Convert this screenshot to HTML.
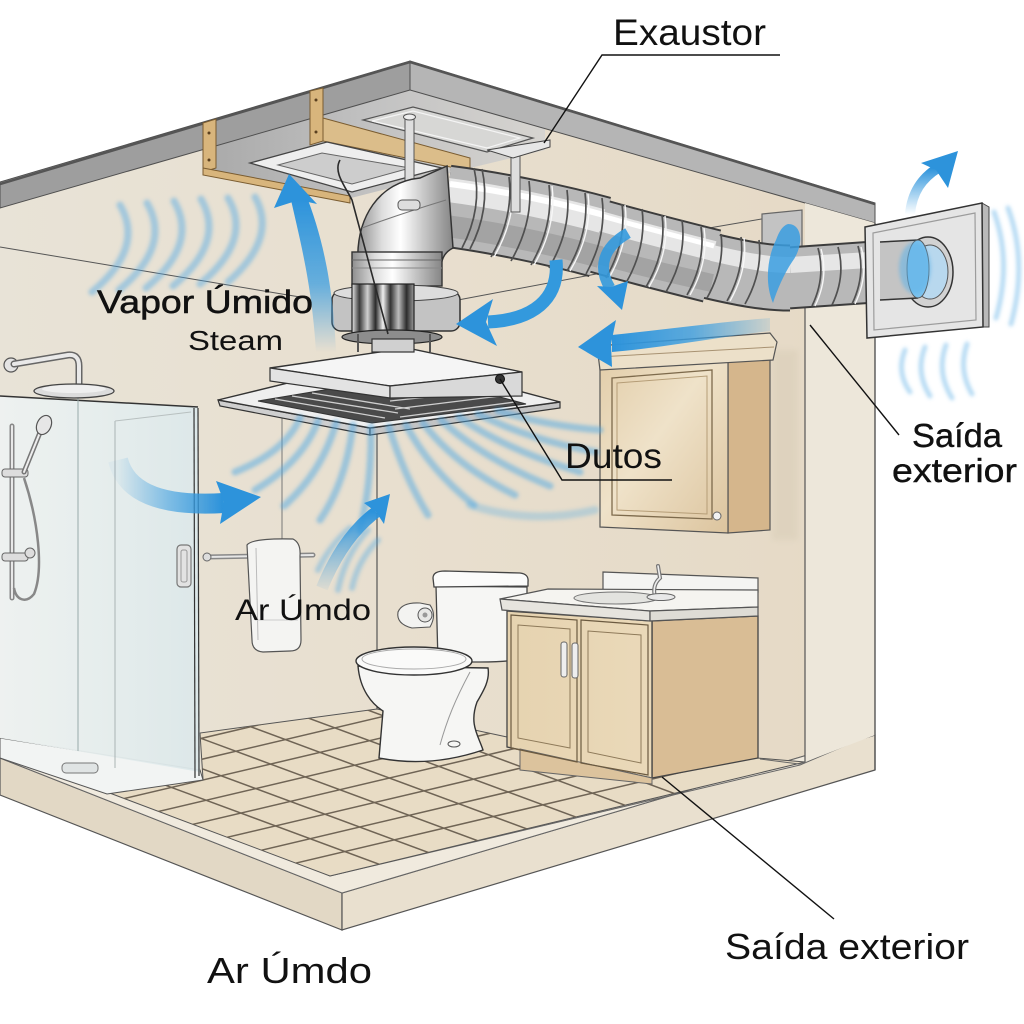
<!DOCTYPE html>
<html>
<head>
<meta charset="utf-8">
<style>
html,body{margin:0;padding:0;background:#ffffff;}
svg{display:block;}
.lbl{font-family:"Liberation Sans", Arial, sans-serif; fill:#111;}
</style>
</head>
<body>
<svg width="1024" height="1024" viewBox="0 0 1024 1024" xmlns="http://www.w3.org/2000/svg">
<defs>
  <filter id="soft" x="-30%" y="-30%" width="160%" height="160%"><feGaussianBlur stdDeviation="1.8"/></filter>
  <filter id="soft3" x="-30%" y="-30%" width="160%" height="160%"><feGaussianBlur stdDeviation="3"/></filter>
  <linearGradient id="wallG" x1="0" y1="0" x2="1" y2="0">
    <stop offset="0" stop-color="#e8e3d7"/>
    <stop offset="0.45" stop-color="#e8dfcf"/>
    <stop offset="1" stop-color="#e5d9c5"/>
  </linearGradient>
  <linearGradient id="cavG" x1="0" y1="0" x2="1" y2="0">
    <stop offset="0" stop-color="#a9a9a9"/>
    <stop offset="0.5" stop-color="#c2c2c2"/>
    <stop offset="1" stop-color="#d6d4d0"/>
  </linearGradient>
  <linearGradient id="metalH" x1="0" y1="0" x2="1" y2="0">
    <stop offset="0" stop-color="#8e8e8e"/>
    <stop offset="0.25" stop-color="#dcdcdc"/>
    <stop offset="0.45" stop-color="#ffffff"/>
    <stop offset="0.7" stop-color="#c6c6c6"/>
    <stop offset="1" stop-color="#858585"/>
  </linearGradient>
  <linearGradient id="darkM" x1="0" y1="0" x2="1" y2="0">
    <stop offset="0" stop-color="#e8e8e8"/>
    <stop offset="0.12" stop-color="#3a3a3a"/>
    <stop offset="0.25" stop-color="#d0d0d0"/>
    <stop offset="0.38" stop-color="#2a2a2a"/>
    <stop offset="0.5" stop-color="#f0f0f0"/>
    <stop offset="0.62" stop-color="#333"/>
    <stop offset="0.75" stop-color="#bdbdbd"/>
    <stop offset="0.88" stop-color="#2c2c2c"/>
    <stop offset="1" stop-color="#9a9a9a"/>
  </linearGradient>
  <linearGradient id="glassG" x1="0" y1="0" x2="1" y2="0">
    <stop offset="0" stop-color="#eef2f1"/>
    <stop offset="0.5" stop-color="#e6eeee"/>
    <stop offset="1" stop-color="#dce8ea"/>
  </linearGradient>
  <linearGradient id="cabF" x1="0" y1="0" x2="1" y2="1">
    <stop offset="0" stop-color="#e2cda9"/>
    <stop offset="0.45" stop-color="#efe2c9"/>
    <stop offset="1" stop-color="#dcc49e"/>
  </linearGradient>
  <linearGradient id="vanF" x1="0" y1="0" x2="1" y2="0">
    <stop offset="0" stop-color="#e6d3b0"/>
    <stop offset="1" stop-color="#ead9b9"/>
  </linearGradient>
  <linearGradient id="a1" gradientUnits="userSpaceOnUse" x1="0" y1="352" x2="0" y2="200">
    <stop offset="0" stop-color="#3a9de0" stop-opacity="0"/>
    <stop offset="0.45" stop-color="#3a9de0" stop-opacity="0.75"/>
    <stop offset="1" stop-color="#2d93db" stop-opacity="1"/>
  </linearGradient>
  <linearGradient id="a4" gradientUnits="userSpaceOnUse" x1="775" y1="0" x2="612" y2="0">
    <stop offset="0" stop-color="#3a9de0" stop-opacity="0.1"/>
    <stop offset="0.5" stop-color="#3a9de0" stop-opacity="0.8"/>
    <stop offset="1" stop-color="#2d93db" stop-opacity="1"/>
  </linearGradient>
  <linearGradient id="a5" gradientUnits="userSpaceOnUse" x1="0" y1="215" x2="0" y2="168">
    <stop offset="0" stop-color="#3a9de0" stop-opacity="0"/>
    <stop offset="1" stop-color="#2d93db" stop-opacity="1"/>
  </linearGradient>
  <linearGradient id="a6" gradientUnits="userSpaceOnUse" x1="118" y1="0" x2="222" y2="0">
    <stop offset="0" stop-color="#3a9de0" stop-opacity="0.05"/>
    <stop offset="0.5" stop-color="#3a9de0" stop-opacity="0.6"/>
    <stop offset="1" stop-color="#2d93db" stop-opacity="1"/>
  </linearGradient>
  <linearGradient id="a7" gradientUnits="userSpaceOnUse" x1="0" y1="590" x2="0" y2="512">
    <stop offset="0" stop-color="#3a9de0" stop-opacity="0.05"/>
    <stop offset="1" stop-color="#2d93db" stop-opacity="1"/>
  </linearGradient>
  <clipPath id="floorClip">
    <polygon points="107,792 203,779 200,733 377,709 507,737 805,762 330,876"/>
  </clipPath>
</defs>

<!-- ===== ROOM SHELL ===== -->
<polygon points="0,182 410,61 875,203 875,770 342,930 0,795" fill="url(#wallG)"/>

<!-- ceiling cavity -->
<polygon points="203,123 323,89 410,90 545,128 545,150 470,168 347,199 203,170" fill="url(#cavG)"/>

<!-- ceiling band (cut slab) -->
<polygon points="0,182 410,61 410,90 0,208" fill="#9e9e9e" stroke="#4f4f4f" stroke-width="1"/>
<polygon points="410,61 875,203 875,223 410,90" fill="#b5b5b5" stroke="#4f4f4f" stroke-width="1"/>
<polyline points="0,184 410,62 875,204" fill="none" stroke="#555" stroke-width="2.5"/>

<!-- wood joists -->
<polygon points="203,123 216,119 216,168 203,172" fill="#d8b57c" stroke="#7a5c30" stroke-width="1"/>
<circle cx="209" cy="133" r="1.5" fill="#5a4020"/><circle cx="209" cy="160" r="1.5" fill="#5a4020"/>
<polygon points="310,91 323,88 323,141 310,145" fill="#d8b57c" stroke="#7a5c30" stroke-width="1"/>
<circle cx="316" cy="100" r="1.5" fill="#5a4020"/><circle cx="316" cy="132" r="1.5" fill="#5a4020"/>
<polygon points="323,118 470,158 470,171 323,141" fill="#dbbd8a" stroke="#7a5c30" stroke-width="1"/>
<polygon points="203,168 350,196 350,203 203,175" fill="#d8b57c" stroke="#7a5c30" stroke-width="1"/>

<!-- second ceiling plate -->
<polygon points="363,120 413,107 533,138 487,152" fill="#d7d7d5" stroke="#555" stroke-width="1.2"/>
<polygon points="372,121 413,111 520,138 487,148" fill="none" stroke="#f4f4f4" stroke-width="1.2"/>

<!-- ceiling intake vent -->
<polygon points="250,163 327,142 442,168 352,192" fill="#eeeeee" stroke="#444" stroke-width="1.3"/>
<polygon points="278,165 322,153 410,168 352,184" fill="#cdcdcd" stroke="#666" stroke-width="1"/>

<!-- ceiling / wall junction lines -->
<line x1="0" y1="247" x2="300" y2="297" stroke="#555" stroke-width="1"/>
<line x1="458" y1="300" x2="660" y2="262" stroke="#555" stroke-width="1"/>
<line x1="680" y1="233" x2="802" y2="212" stroke="#555" stroke-width="1"/>

<!-- room corner lines -->
<line x1="377" y1="420" x2="377" y2="709" stroke="#555" stroke-width="1.2"/>
<line x1="282" y1="415" x2="282" y2="545" stroke="#777" stroke-width="1"/>

<!-- wall shadow by cabinet -->
<rect x="772" y="350" width="26" height="190" fill="#d6cab4" opacity="0.45" filter="url(#soft3)"/>

<!-- ===== FLOOR & SLAB ===== -->
<polygon points="0,758 342,893 342,930 0,795" fill="#e2d8c5" stroke="#555" stroke-width="1.2"/>
<polygon points="342,893 875,735 875,770 342,930" fill="#e9e0cf" stroke="#555" stroke-width="1.2"/>
<polygon points="0,738 330,876 800,765 875,733 875,735 342,893 0,758" fill="#f0eade" stroke="#666" stroke-width="1"/>
<polygon points="107,792 203,779 200,733 377,709 507,737 805,762 330,876" fill="#e8dcc5" stroke="#555" stroke-width="1"/>
<g clip-path="url(#floorClip)" stroke="#6f6455" stroke-width="1.5" fill="none">
  <line x1="80" y1="753.6" x2="900" y2="1057"/>
  <line x1="80" y1="723.6" x2="900" y2="1027"/>
  <line x1="80" y1="693.6" x2="900" y2="997"/>
  <line x1="80" y1="663.6" x2="900" y2="967"/>
  <line x1="80" y1="633.6" x2="900" y2="937"/>
  <line x1="80" y1="603.6" x2="900" y2="907"/>
  <line x1="80" y1="573.6" x2="900" y2="877"/>
  <line x1="80" y1="914" x2="900" y2="720.6"/>
  <line x1="80" y1="893" x2="900" y2="699.6"/>
  <line x1="80" y1="872" x2="900" y2="678.6"/>
  <line x1="80" y1="851" x2="900" y2="657.6"/>
  <line x1="80" y1="830" x2="900" y2="636.6"/>
  <line x1="80" y1="809" x2="900" y2="615.6"/>
  <line x1="80" y1="788" x2="900" y2="594.6"/>
  <line x1="80" y1="767" x2="900" y2="573.6"/>
</g>

<!-- right wall cut strip -->
<polygon points="805,203 875,223 875,735 805,762" fill="#ede7da"/>
<line x1="805" y1="300" x2="805" y2="762" stroke="#555" stroke-width="1.2"/>
<line x1="875" y1="223" x2="875" y2="770" stroke="#555" stroke-width="1.4"/>
<polyline points="760,759 799,764 805,762" fill="none" stroke="#666" stroke-width="1"/>

<!-- ===== SHOWER ===== -->
<polygon points="0,738 200,770 203,780 107,794 0,758" fill="#f2f4f3" stroke="#555" stroke-width="1"/>
<rect x="62" y="763" width="36" height="10" rx="4" fill="#e0e4e4" stroke="#777" stroke-width="1"/>
<polygon points="0,396 198,407 200,772 0,738" fill="url(#glassG)" opacity="0.95"/>
<line x1="0" y1="396" x2="198" y2="407" stroke="#333" stroke-width="1.5"/>
<line x1="78" y1="398" x2="78" y2="751" stroke="#9aa" stroke-width="1"/>
<line x1="115" y1="421" x2="115" y2="768" stroke="#a9b3b3" stroke-width="1"/>
<line x1="115" y1="421" x2="191" y2="412" stroke="#b8c0c0" stroke-width="1"/>
<line x1="194" y1="408" x2="195" y2="778" stroke="#333" stroke-width="1.2"/>
<line x1="198" y1="408" x2="199" y2="776" stroke="#333" stroke-width="1.2"/>
<rect x="177" y="545" width="14" height="42" rx="4" fill="#e2e2e2" stroke="#777" stroke-width="1.2"/>
<rect x="181" y="550" width="6" height="32" rx="2" fill="none" stroke="#999" stroke-width="1"/>
<!-- shower head -->
<circle cx="11" cy="365" r="7" fill="#e4e4e4" stroke="#555" stroke-width="1.2"/>
<path d="M 14 364 L 68 355 Q 79 354 79 366 L 79 386" fill="none" stroke="#666" stroke-width="7" stroke-linecap="round"/>
<path d="M 14 364 L 68 355 Q 79 354 79 366 L 79 386" fill="none" stroke="#e9e9e9" stroke-width="4" stroke-linecap="round"/>
<ellipse cx="74" cy="391" rx="40" ry="7" fill="#dcdcdc" stroke="#444" stroke-width="1.3"/>
<ellipse cx="74" cy="389" rx="32" ry="4" fill="#efefef"/>
<!-- hand shower -->
<line x1="12" y1="426" x2="12" y2="598" stroke="#888" stroke-width="5" stroke-linecap="round"/>
<line x1="12" y1="426" x2="12" y2="598" stroke="#e8e8e8" stroke-width="2" stroke-linecap="round"/>
<rect x="2" y="469" width="26" height="8" rx="3" fill="#ddd" stroke="#666" stroke-width="1"/>
<rect x="2" y="553" width="26" height="8" rx="3" fill="#ddd" stroke="#666" stroke-width="1"/>
<path d="M 24 472 L 41 430" stroke="#777" stroke-width="5" stroke-linecap="round"/>
<path d="M 24 472 L 41 430" stroke="#eee" stroke-width="2" stroke-linecap="round"/>
<ellipse cx="44" cy="425" rx="7" ry="10" transform="rotate(25 44 425)" fill="#e6e6e6" stroke="#555" stroke-width="1.2"/>
<path d="M 24 478 C 38 520, 44 570, 34 594 C 26 604, 16 600, 14 588" fill="none" stroke="#888" stroke-width="2.5"/>
<circle cx="30" cy="553" r="5" fill="#ddd" stroke="#666" stroke-width="1"/>

<!-- ===== MEDICINE CABINET ===== -->
<polygon points="728,357 770,352 770,530 728,533" fill="#d5b68c" stroke="#555" stroke-width="1.2"/>
<polygon points="600,362 728,357 728,533 600,527" fill="url(#cabF)" stroke="#555" stroke-width="1.2"/>
<polygon points="612,378 712,370 712,519 612,515" fill="none" stroke="#7d6a4c" stroke-width="1.3"/>
<polygon points="617,383 707,376 707,514 617,510" fill="none" stroke="#b59d77" stroke-width="1"/>
<circle cx="717" cy="516" r="4" fill="#f2f2f2" stroke="#666" stroke-width="1"/>
<polygon points="597,346 770,333 777,342 773,360 600,370" fill="#ece0c9" stroke="#555" stroke-width="1.2"/>
<line x1="598" y1="357" x2="774" y2="347" stroke="#a89272" stroke-width="1"/>

<!-- ===== TOWEL & PAPER ===== -->
<line x1="207" y1="557" x2="313" y2="555" stroke="#888" stroke-width="5" stroke-linecap="round"/>
<line x1="207" y1="557" x2="313" y2="555" stroke="#e6e6e6" stroke-width="2" stroke-linecap="round"/>
<circle cx="207" cy="557" r="4" fill="#ddd" stroke="#666" stroke-width="1"/>
<path d="M 247 545 Q 252 538 293 539 Q 301 543 300 556 L 301 640 Q 301 651 290 651 L 263 652 Q 252 651 252 640 Z" fill="#f4f4f2" stroke="#555" stroke-width="1.2"/>
<path d="M 256 548 L 258 640" stroke="#bbb" stroke-width="1" fill="none"/>
<path d="M 255 620 L 298 620" stroke="#ccc" stroke-width="1" fill="none"/>
<path d="M 398 612 Q 402 602 420 603 L 430 605 Q 437 615 430 627 L 412 628 Q 396 624 398 612 Z" fill="#f3f3f1" stroke="#555" stroke-width="1.1"/>
<circle cx="425" cy="615" r="7" fill="#e8e8e6" stroke="#555" stroke-width="1"/>
<circle cx="425" cy="615" r="2.5" fill="#999"/>

<!-- ===== TOILET TANK ===== -->
<path d="M 436 586 L 527 587 L 527 656 Q 520 662 480 662 L 438 662 Z" fill="#f6f6f4" stroke="#444" stroke-width="1.3"/>
<path d="M 433 578 Q 433 571 445 571 L 520 573 Q 529 574 528 582 L 528 586 L 434 587 Z" fill="#fbfbfa" stroke="#444" stroke-width="1.3"/>

<!-- ===== VANITY ===== -->
<polygon points="652,621 758,616 758,758 652,778" fill="#d9bd95" stroke="#444" stroke-width="1.3"/>
<polygon points="507,611 652,621 652,778 507,747" fill="url(#vanF)" stroke="#444" stroke-width="1.3"/>
<polygon points="520,749 652,778 652,784 520,770" fill="#dcc39d" stroke="#666" stroke-width="1"/>
<polygon points="511,615 577,620 577,762 511,748" fill="none" stroke="#6b5a40" stroke-width="1.2"/>
<polygon points="518,625 570,629 570,748 518,738" fill="none" stroke="#8e7a5a" stroke-width="1"/>
<polygon points="581,620 648,625 648,775 581,763" fill="none" stroke="#6b5a40" stroke-width="1.2"/>
<polygon points="588,631 641,635 641,763 588,752" fill="none" stroke="#8e7a5a" stroke-width="1"/>
<rect x="561" y="642" width="6" height="35" rx="2.5" fill="#eee" stroke="#666" stroke-width="1"/>
<rect x="572" y="643" width="6" height="35" rx="2.5" fill="#eee" stroke="#666" stroke-width="1"/>
<!-- countertop -->
<polygon points="603,572 758,578 758,592 603,590" fill="#f4f4f2" stroke="#555" stroke-width="1.2"/>
<polygon points="500,599 548,589 758,590 758,607 650,611" fill="#f5f4f0" stroke="#555" stroke-width="1.2"/>
<polygon points="500,599 650,611 650,621 502,610" fill="#e6e4de" stroke="#555" stroke-width="1.2"/>
<polygon points="650,611 758,607 758,616 650,621" fill="#dedcd5" stroke="#555" stroke-width="1.2"/>
<ellipse cx="616" cy="598" rx="42" ry="6" fill="#e3e3df" stroke="#777" stroke-width="1.1"/>
<path d="M 655 597 Q 652 585 660 578 L 658 566" fill="none" stroke="#777" stroke-width="4" stroke-linecap="round"/>
<path d="M 655 597 Q 652 585 660 578 L 658 566" fill="none" stroke="#eee" stroke-width="1.6" stroke-linecap="round"/>
<ellipse cx="661" cy="597" rx="14" ry="3.5" fill="#e8e8e8" stroke="#666" stroke-width="1"/>

<!-- ===== TOILET BOWL ===== -->
<path d="M 358 666 C 360 690, 372 704, 383 711 L 379 758 Q 430 768 483 750 C 478 735, 469 724, 477 702 C 484 690, 490 680, 488 668 Z" fill="#f6f6f4" stroke="#333" stroke-width="1.4"/>
<path d="M 470 672 C 455 700, 447 720, 440 745" fill="none" stroke="#999" stroke-width="1"/>
<ellipse cx="454" cy="744" rx="6" ry="3" fill="none" stroke="#555" stroke-width="1"/>
<ellipse cx="414" cy="661" rx="58" ry="14" fill="#fafaf9" stroke="#333" stroke-width="1.4"/>
<ellipse cx="414" cy="659" rx="52" ry="10" fill="none" stroke="#aaa" stroke-width="1"/>

<!-- ===== PENETRATION BOX ===== -->
<polygon points="762,214 802,210 802,268 762,274" fill="#c3c3c3" stroke="#666" stroke-width="1.2"/>

<!-- ===== DUCT ===== -->
<g fill="none" stroke-linecap="butt" stroke-linejoin="round">
  <path d="M 446 206 C 500 213, 560 226, 600 237" stroke="#3c3c3c" stroke-width="83"/>
  <path d="M 598 236 C 640 248, 680 258, 712 266" stroke="#3c3c3c" stroke-width="75"/>
  <path d="M 710 266 C 740 273, 765 278, 790 278" stroke="#3c3c3c" stroke-width="67"/>
  <path d="M 788 278 L 918 269" stroke="#3c3c3c" stroke-width="63"/>
  <path d="M 446 206 C 500 213, 560 226, 600 237" stroke="#b8b8b8" stroke-width="79"/>
  <path d="M 598 236 C 640 248, 680 258, 712 266" stroke="#b8b8b8" stroke-width="71"/>
  <path d="M 710 266 C 740 273, 765 278, 790 278" stroke="#b8b8b8" stroke-width="63"/>
  <path d="M 788 278 L 918 269" stroke="#b8b8b8" stroke-width="59"/>
  <path d="M 446 226 C 500 233, 560 246, 600 257" stroke="#a3a3a3" stroke-width="22"/>
  <path d="M 598 255 C 640 267, 680 276, 712 283" stroke="#a3a3a3" stroke-width="18"/>
  <path d="M 448 190 C 502 197, 562 210, 602 221" stroke="#e6e6e6" stroke-width="24"/>
  <path d="M 600 221 C 642 233, 682 243, 714 251" stroke="#e6e6e6" stroke-width="20"/>
  <path d="M 712 253 C 742 260, 767 265, 790 265" stroke="#e6e6e6" stroke-width="16"/>
  <path d="M 790 265 L 916 257" stroke="#e6e6e6" stroke-width="16"/>
  <path d="M 450 184 C 504 191, 564 204, 604 215" stroke="#ffffff" stroke-width="6"/>
  <path d="M 602 216 C 644 228, 684 238, 714 246" stroke="#ffffff" stroke-width="5"/>
</g>
<!-- rings -->
<g fill="none" stroke-width="1.7">
  <g stroke="#505050">
    <path d="M 474 168 Q 483 208 462 248"/>
    <path d="M 482 169 Q 491 209 470 249"/>
    <path d="M 509 177 Q 514 217 491 257"/>
    <path d="M 529 181 Q 534 221 511 261"/>
    <path d="M 549 185 Q 554 225 531 265"/>
    <path d="M 567 190 Q 572 229 549 268"/>
    <path d="M 585 193 Q 590 232 567 271"/>
    <path d="M 602 198 Q 607 236 586 274"/>
    <path d="M 622 204 Q 627 241 606 278"/>
    <path d="M 642 209 Q 647 246 626 283"/>
    <path d="M 662 215 Q 667 251 646 287"/>
    <path d="M 682 220 Q 687 256 666 292"/>
    <path d="M 701 227 Q 706 261 687 295"/>
    <path d="M 721 234 Q 725 266 707 298"/>
    <path d="M 741 237 Q 745 269 727 301"/>
    <path d="M 759 240 Q 763 272 745 304"/>
    <path d="M 818 248 Q 826 277 812 306"/>
    <path d="M 838 247 Q 846 276 832 305"/>
    <path d="M 858 246 Q 866 275 852 304"/>
    <path d="M 878 245 Q 886 273 872 302"/>
  </g>
  <g stroke="#f7f7f7" stroke-width="1.4">
    <path d="M 512 178 Q 517 217 494 257"/>
    <path d="M 552 186 Q 557 225 534 265"/>
    <path d="M 588 194 Q 593 232 570 271"/>
    <path d="M 625 205 Q 630 241 609 278"/>
    <path d="M 665 216 Q 670 251 649 287"/>
    <path d="M 704 228 Q 709 261 690 295"/>
    <path d="M 744 238 Q 748 269 730 301"/>
    <path d="M 821 249 Q 829 277 815 306"/>
    <path d="M 861 247 Q 869 275 855 304"/>
  </g>
</g>
<!-- blue swirl in penetration -->
<path d="M 788 224 C 803 224, 804 246, 792 262 C 784 274, 777 290, 773 303 C 764 282, 768 256, 776 240 C 779 232, 782 226, 788 224 Z" fill="#3a9de0" opacity="0.85"/>

<!-- ===== EXTERIOR VENT PLATE ===== -->
<polygon points="982,203 989,207 989,327 983,327" fill="#b9b9b9" stroke="#444" stroke-width="1"/>
<polygon points="865,227 982,203 983,327 867,338" fill="#e5e5e5" stroke="#333" stroke-width="1.5"/>
<polygon points="873,233 975,213 976,320 874,330" fill="none" stroke="#9c9c9c" stroke-width="1.2"/>
<ellipse cx="928" cy="272" rx="25" ry="35" fill="#d2d2d2" stroke="#333" stroke-width="1.5"/>
<ellipse cx="930" cy="272" rx="18" ry="27" fill="#b8d8ee" stroke="#555" stroke-width="1"/>
<path d="M 880 242 L 918 240 L 918 298 L 880 300 Z" fill="#c4c4c4"/>
<path d="M 880 242 L 918 240" stroke="#333" stroke-width="1.5"/>
<path d="M 880 300 L 918 298" stroke="#333" stroke-width="1.5"/>
<ellipse cx="918" cy="269" rx="11" ry="29" fill="#7cc2ee" stroke="#555" stroke-width="1"/>
<ellipse cx="915" cy="268" rx="16" ry="26" fill="#5fb3e8" opacity="0.55" filter="url(#soft)"/>

<!-- ===== GRILLE ===== -->
<polygon points="218,400 370,428 370,435 220,406" fill="#cfcfcf" stroke="#333" stroke-width="1.2"/>
<polygon points="370,428 560,402 560,408 370,435" fill="#c4c4c4" stroke="#333" stroke-width="1.2"/>
<polygon points="218,400 300,380 470,378 560,402 370,428" fill="#efefef" stroke="#333" stroke-width="1.4"/>
<polygon points="258,401 330,389 470,389 526,404 372,423" fill="#4a4a4a" stroke="#333" stroke-width="1"/>
<g stroke="#cfcfcf" stroke-width="1.3">
  <line x1="275" y1="399" x2="385" y2="418"/>
  <line x1="292" y1="396" x2="398" y2="413"/>
  <line x1="312" y1="393" x2="410" y2="409"/>
  <line x1="400" y1="417" x2="515" y2="402"/>
  <line x1="395" y1="409" x2="500" y2="396"/>
  <line x1="390" y1="401" x2="485" y2="391"/>
</g>
<polygon points="270,368 407,348 522,372 390,386" fill="#f5f5f5" stroke="#333" stroke-width="1.4"/>
<polygon points="270,368 390,386 390,398 270,381" fill="#e3e3e3" stroke="#333" stroke-width="1.2"/>
<polygon points="390,386 522,372 522,396 390,398" fill="#d9d9d9" stroke="#333" stroke-width="1.2"/>
<circle cx="500" cy="379" r="4.5" fill="#333" stroke="#111" stroke-width="1"/>

<!-- ===== FAN ASSEMBLY ===== -->
<rect x="405" y="117" width="9" height="90" fill="#dedede" stroke="#555" stroke-width="1"/>
<ellipse cx="409.5" cy="117" rx="6" ry="3" fill="#eee" stroke="#555" stroke-width="1"/>
<rect x="511" y="150" width="9" height="62" fill="#dedede" stroke="#555" stroke-width="1"/>
<polygon points="487,150 550,140 550,147 513,158" fill="#e6e6e6" stroke="#444" stroke-width="1"/>
<path d="M 358 266 C 355 216, 380 182, 420 178 L 447 166 L 453 248 C 445 252, 442 258, 441 266 Z" fill="url(#metalH)" stroke="#333" stroke-width="1.5"/>
<path d="M 362 228 Q 400 214 446 200" fill="none" stroke="#777" stroke-width="1"/>
<rect x="398" y="200" width="22" height="10" rx="4" fill="#ddd" stroke="#555" stroke-width="1"/>
<rect x="352" y="252" width="90" height="34" fill="url(#metalH)" stroke="#333" stroke-width="1.4"/>
<line x1="352" y1="260" x2="442" y2="260" stroke="#666" stroke-width="1"/>
<line x1="352" y1="268" x2="442" y2="268" stroke="#888" stroke-width="1"/>
<rect x="332" y="291" width="128" height="40" rx="9" fill="#c3c3c3" stroke="#333" stroke-width="1.5"/>
<ellipse cx="396" cy="293" rx="62" ry="8" fill="#dddddd" stroke="#444" stroke-width="1"/>
<rect x="352" y="284" width="62" height="52" fill="url(#darkM)" stroke="#222" stroke-width="1.2"/>
<ellipse cx="392" cy="337" rx="50" ry="7" fill="#8d8d8d" stroke="#222" stroke-width="1.2"/>
<rect x="372" y="339" width="42" height="13" fill="#d0d0d0" stroke="#333" stroke-width="1.2"/>
<line x1="358" y1="334" x2="358" y2="352" stroke="#555" stroke-width="2"/>
<line x1="430" y1="334" x2="430" y2="352" stroke="#555" stroke-width="2"/>
<path d="M 340 160 C 333 172, 345 186, 352 200 L 388 334" fill="none" stroke="#2a2a2a" stroke-width="1.6"/>

<!-- ===== BLUE WISPS ===== -->
<g fill="none" stroke="#4ea8e4" stroke-linecap="round" filter="url(#soft)">
  <g stroke-width="7" opacity="0.45">
    <path d="M 120 205 Q 145 248 92 292"/>
    <path d="M 147 203 Q 172 246 119 290"/>
    <path d="M 174 201 Q 199 244 146 288"/>
    <path d="M 201 199 Q 226 242 173 286"/>
    <path d="M 228 198 Q 253 240 200 284"/>
    <path d="M 255 197 Q 278 238 228 282"/>
  </g>
  <g stroke-width="7" opacity="0.5">
    <path d="M 300 418 Q 285 452 235 472"/>
    <path d="M 318 421 Q 302 462 255 490"/>
    <path d="M 336 423 Q 322 472 284 506"/>
    <path d="M 353 425 Q 346 482 320 520"/>
    <path d="M 371 427 Q 372 482 360 530"/>
    <path d="M 389 427 Q 404 476 428 515"/>
    <path d="M 406 425 Q 430 470 474 505"/>
    <path d="M 423 423 Q 456 466 515 495"/>
    <path d="M 441 420 Q 482 458 550 486"/>
    <path d="M 459 417 Q 506 450 580 472"/>
    <path d="M 478 414 Q 530 440 596 452"/>
    <path d="M 498 411 Q 548 426 600 430"/>
  </g>
  <g stroke-width="6" opacity="0.4">
    <path d="M 338 590 Q 345 555 368 530"/>
    <path d="M 352 588 Q 358 560 378 540"/>
    <path d="M 318 570 Q 330 545 350 528"/>
  </g>
  <g stroke-width="5" opacity="0.4">
    <path d="M 994 212 Q 1012 262 996 318"/>
    <path d="M 1008 208 Q 1028 262 1011 324"/>
    <path d="M 905 350 Q 896 372 910 392"/>
    <path d="M 925 347 Q 915 372 930 396"/>
    <path d="M 946 345 Q 936 372 952 398"/>
    <path d="M 967 344 Q 958 370 972 394"/>
  </g>
  <g stroke-width="8" opacity="0.3">
    <path d="M 470 505 Q 530 525 595 510"/>
  </g>
</g>

<!-- ===== ARROWS ===== -->
<path d="M 291 200 C 300 240, 312 285, 316 352 L 336 352 C 333 285, 323 240, 308 200 Z" fill="url(#a1)"/>
<polygon points="289,174 274,208 299,200 317,204" fill="#2d93db"/>
<path d="M 556 260 C 560 300, 532 320, 488 322" fill="none" stroke="#3399dd" stroke-width="13"/>
<polygon points="456,324 493,299 486,322 497,346" fill="#2d93db"/>
<path d="M 628 233 C 602 248, 598 268, 610 288" fill="none" stroke="#3399dd" stroke-width="11" opacity="0.9"/>
<polygon points="622,310 597,286 611,287 628,281" fill="#2d93db"/>
<path d="M 770 318 C 720 322, 660 330, 612 335 L 612 352 C 660 348, 720 337, 770 331 Z" fill="url(#a4)"/>
<polygon points="578,347 616,320 611,344 612,367" fill="#2d93db"/>
<path d="M 910 214 C 912 192, 922 178, 938 168" fill="none" stroke="url(#a5)" stroke-width="10"/>
<polygon points="958,151 921,163 936,170 948,188" fill="#2d93db"/>
<path d="M 118 460 C 126 492, 160 507, 224 503" fill="none" stroke="url(#a6)" stroke-width="20"/>
<polygon points="261,497 216,481 224,502 220,524" fill="#2d93db"/>
<path d="M 322 588 C 335 556, 352 530, 376 512" fill="none" stroke="url(#a7)" stroke-width="12"/>
<polygon points="390,494 364,503 376,512 384,524" fill="#2d93db"/>

<!-- ===== LEADERS ===== -->
<g fill="none" stroke="#111" stroke-width="1.4">
  <polyline points="544,143 602,55 780,55"/>
  <polyline points="500,379 562,480 672,480"/>
  <line x1="899" y1="435" x2="810" y2="325"/>
  <line x1="834" y1="919" x2="662" y2="777"/>
</g>

<!-- ===== LABELS ===== -->
<text class="lbl" x="613" y="45" font-size="37" textLength="153" lengthAdjust="spacingAndGlyphs">Exaustor</text>
<text class="lbl" x="97" y="313" font-size="32" textLength="216" lengthAdjust="spacingAndGlyphs" stroke="#111" stroke-width="0.5">Vapor Úmido</text>
<text class="lbl" x="188" y="350" font-size="28" textLength="95" lengthAdjust="spacingAndGlyphs">Steam</text>
<text class="lbl" x="565" y="468" font-size="35" textLength="97" lengthAdjust="spacingAndGlyphs">Dutos</text>
<text class="lbl" x="912" y="447" font-size="33" textLength="90" lengthAdjust="spacingAndGlyphs" stroke="#111" stroke-width="0.4">Saída</text>
<text class="lbl" x="892" y="482" font-size="33" textLength="125" lengthAdjust="spacingAndGlyphs" stroke="#111" stroke-width="0.4">exterior</text>
<text class="lbl" x="235" y="620" font-size="30" textLength="136" lengthAdjust="spacingAndGlyphs">Ar Úmdo</text>
<text class="lbl" x="207" y="983" font-size="36" textLength="165" lengthAdjust="spacingAndGlyphs">Ar Úmdo</text>
<text class="lbl" x="725" y="959" font-size="36" textLength="244" lengthAdjust="spacingAndGlyphs">Saída exterior</text>
</svg>
</body>
</html>
